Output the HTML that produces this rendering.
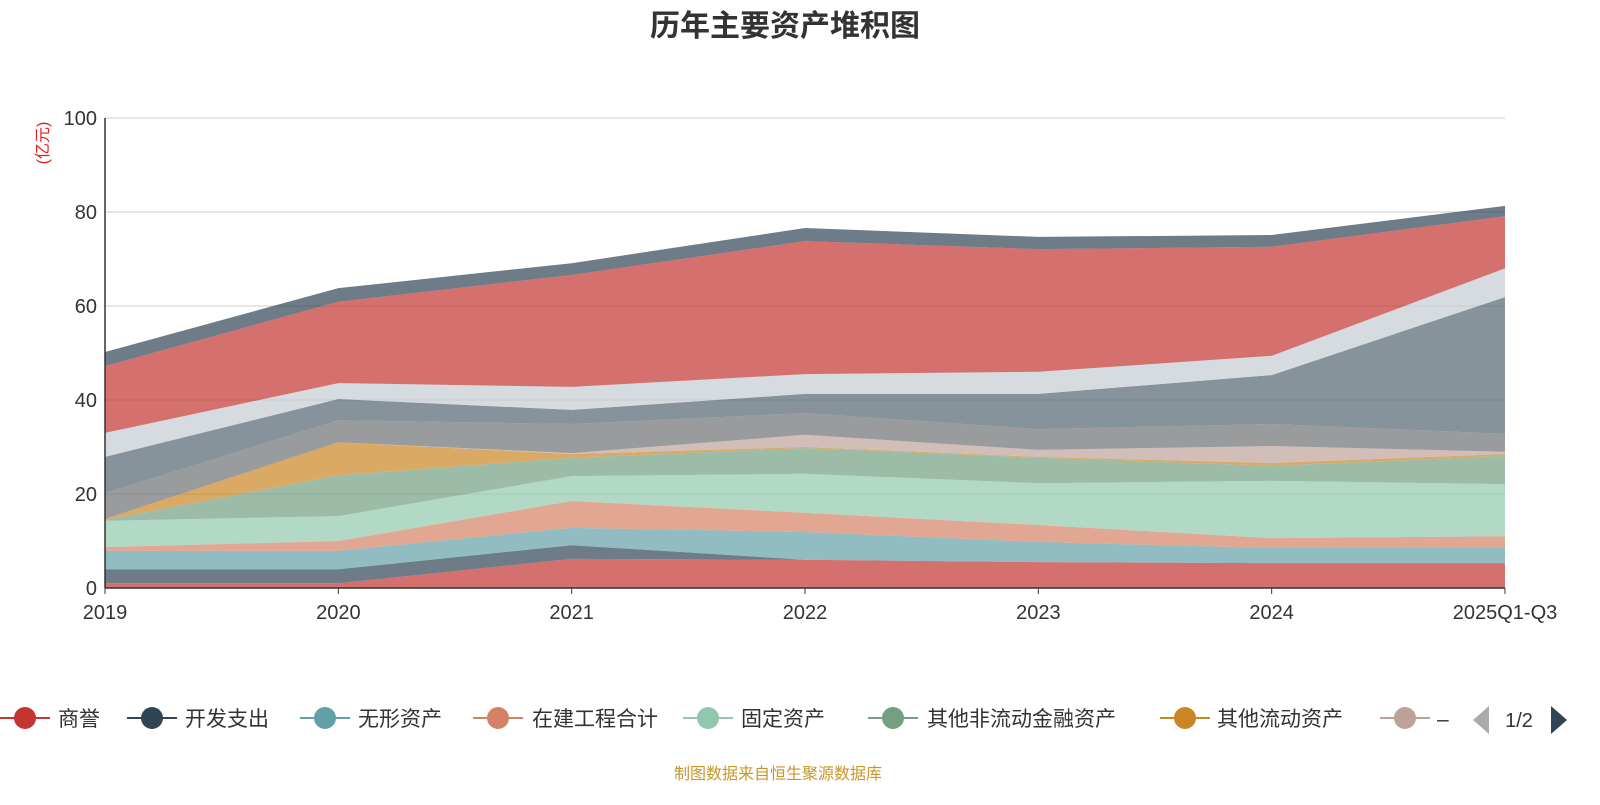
<!DOCTYPE html>
<html><head><meta charset="utf-8">
<style>
body{margin:0;background:#fff;width:1600px;height:800px;overflow:hidden;font-family:"Liberation Sans","Noto Sans CJK SC",sans-serif;}
svg text{font-family:"Liberation Sans","Noto Sans CJK SC",sans-serif;}
</style></head>
<body>
<svg id="chart" width="1600" height="800" xmlns="http://www.w3.org/2000/svg">
<text x="785" y="36" text-anchor="middle" font-size="30" font-weight="bold" fill="#333">历年主要资产堆积图</text>
<text transform="translate(48,143) rotate(-90)" text-anchor="middle" font-size="16" fill="#e0201c">(亿元)</text>
<g id="grid"></g>
<g id="areas"></g>
<g id="axes"></g>
<g id="legend"></g>
<text x="778" y="779" text-anchor="middle" font-size="16" fill="#c8962a">制图数据来自恒生聚源数据库</text>
</svg>
<script>
const categories=["2019","2020","2021","2022","2023","2024","2025Q1-Q3"];
const yTicks=[0,20,40,60,80,100];
const seriesNames=["商誉","开发支出","无形资产","在建工程合计","固定资产","其他非流动金融资产","其他流动资产","–","s9","s10","s11","s12","s13"];
const s1=[1,1,6.2,6,5.5,5.3,5.3];
const s2=[3,3,2.9,0,0,0,0];
const s3=[3.9,3.9,3.7,5.9,4.3,3.2,3.2];
const s4=[0.8,2.1,5.7,4.1,3.6,2.1,2.5];
const s5=[5.6,5.3,5.3,8.3,8.9,12.2,11.1];
const s6=[0.2,8.7,3.9,5.5,5.4,3.2,6];
const s7=[0.2,7,0.8,0.2,0.2,0.6,0.4];
const s8=[0,0,0.2,2.6,1.5,3.6,0.5];
const s9=[5.5,4.7,6.2,4.6,4.4,4.7,3.8];
const s10=[7.7,4.5,3,4.1,7.5,10.4,29.1];
const s11=[5.1,3.4,4.9,4.2,4.7,4.1,6.1];
const s12=[14.2,17.3,23.8,28.3,26.1,23.2,11.1];
const s13=[3,2.9,2.5,2.8,2.6,2.5,2.2];
const series=[s1,s2,s3,s4,s5,s6,s7,s8,s9,s10,s11,s12,s13];
const colors=["#c23531","#2f4554","#61a0a8","#d48265","#91c7ae","#749f83","#ca8622","#bda29a","#6e7074","#546570","#c4ccd3","#c23531","#2f4554"];
const NS="http://www.w3.org/2000/svg";
const X0=105,X1=1505,Y0=588,Y1=118;
const xs=i=>X0+(X1-X0)*i/(categories.length-1);
const ys=v=>Y0-(Y0-Y1)*v/100;
function mk(t,a,p){const e=document.createElementNS(NS,t);for(const k in a)e.setAttribute(k,a[k]);p.appendChild(e);return e;}
const grid=document.getElementById('grid'),areas=document.getElementById('areas'),axes=document.getElementById('axes'),legend=document.getElementById('legend');
yTicks.forEach(v=>{
  if(v>0){const l=mk('line',{x1:X0,x2:X1,y1:ys(v),y2:ys(v),stroke:'#ccc','stroke-width':1},grid);
  
  }
  const t=mk('text',{x:X0-8,y:ys(v)+7,'text-anchor':'end','font-size':20,fill:'#333'},axes);t.textContent=v;
  
  
});
let base=categories.map(()=>0);
series.forEach((s,k)=>{
  const top=base.map((b,i)=>b+s[i]);
  let d='';
  top.forEach((v,i)=>{d+=(i?'L':'M')+xs(i)+','+ys(v);});
  for(let i=base.length-1;i>=0;i--)d+='L'+xs(i)+','+ys(base[i]);
  d+='Z';
  const p=mk('path',{d:d,fill:colors[k],'fill-opacity':0.7,stroke:'none'},areas);
  
  
  base=top;
});
mk('line',{x1:X0,x2:X0,y1:Y1,y2:Y0,stroke:'#333','stroke-width':1.5},axes);
mk('line',{x1:X0,x2:X1,y1:Y0,y2:Y0,stroke:'#333','stroke-width':1.5},axes);
categories.forEach((c,i)=>{
  mk('line',{x1:xs(i),x2:xs(i),y1:Y0,y2:Y0+6,stroke:'#333'},axes);
  const t=mk('text',{x:xs(i),y:Y0+31,'text-anchor':'middle','font-size':20,fill:'#333'},axes);t.textContent=c;
  
  
});
const legX=[25,152,325,498,708,893,1185,1405];
const legTX=[58,185,358,532,741,927,1217,1437];
for(let k=0;k<8;k++){
  const g=mk('g',{},legend);
  
  
  mk('line',{x1:legX[k]-25,x2:legX[k]+25,y1:718,y2:718,stroke:colors[k],'stroke-width':2},g);
  mk('circle',{cx:legX[k],cy:718,r:11,fill:colors[k]},g);
  const t=mk('text',{x:legTX[k],y:726,'font-size':21,fill:'#333'},g);t.textContent=seriesNames[k];
}
const prev=mk('path',{d:'M1489,706 L1489,734 L1473,720 Z',fill:'#aaa'},legend);


const pg=mk('text',{x:1519,y:727,'text-anchor':'middle','font-size':20,fill:'#333'},legend);pg.textContent='1/2';


const next=mk('path',{d:'M1551,706 L1551,734 L1567,720 Z',fill:'#2f4554'},legend);


</script>
</body></html>
